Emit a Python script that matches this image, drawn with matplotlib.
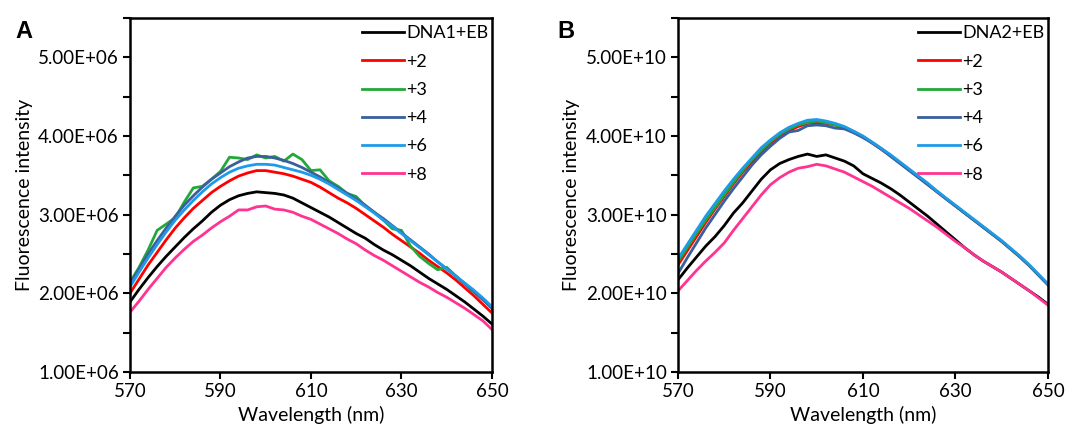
import numpy as np
import matplotlib
matplotlib.use("Agg")
import matplotlib.pyplot as plt
from matplotlib.ticker import FuncFormatter, MultipleLocator

plt.rcParams["font.family"] = ["Lato", "DejaVu Sans"]

# wavelength grid (nm), every 2 nm
wavelength = list(range(570, 651, 2))

# Panel A values, units of 1e6
a_dna1 = [1.89, 2.05, 2.20, 2.34, 2.47, 2.59, 2.71, 2.82, 2.92, 3.03, 3.12, 3.19, 3.24, 3.27, 3.29,
          3.28, 3.27, 3.25, 3.21, 3.15, 3.09, 3.03, 2.97, 2.90, 2.83, 2.76, 2.70, 2.62, 2.55, 2.49,
          2.42, 2.35, 2.27, 2.19, 2.12, 2.05, 1.97, 1.89, 1.80, 1.71, 1.61]
a_p2 = [2.00, 2.18, 2.36, 2.52, 2.68, 2.83, 2.96, 3.08, 3.18, 3.28, 3.36, 3.43, 3.49, 3.53, 3.56,
        3.56, 3.54, 3.52, 3.49, 3.45, 3.41, 3.35, 3.28, 3.21, 3.15, 3.08, 3.00, 2.92, 2.84, 2.75,
        2.67, 2.59, 2.51, 2.42, 2.34, 2.26, 2.17, 2.07, 1.97, 1.86, 1.75]
a_p3 = [2.14, 2.33, 2.55, 2.80, 2.88, 2.96, 3.16, 3.34, 3.36, 3.45, 3.55, 3.73, 3.72, 3.70, 3.76,
        3.72, 3.74, 3.68, 3.77, 3.70, 3.56, 3.57, 3.43, 3.36, 3.27, 3.23, 3.11, 3.03, 2.93, 2.82,
        2.80, 2.60, 2.47, 2.38, 2.30, 2.33, 2.22, 2.12, 2.02, 1.92, 1.81]
a_p4 = [2.12, 2.31, 2.50, 2.67, 2.83, 2.98, 3.12, 3.24, 3.35, 3.45, 3.53, 3.61, 3.67, 3.72, 3.74,
        3.74, 3.72, 3.69, 3.65, 3.60, 3.54, 3.48, 3.41, 3.34, 3.27, 3.20, 3.12, 3.03, 2.95, 2.86,
        2.77, 2.68, 2.59, 2.50, 2.40, 2.31, 2.22, 2.12, 2.02, 1.92, 1.81]
a_p6 = [2.08, 2.27, 2.45, 2.62, 2.78, 2.93, 3.06, 3.18, 3.29, 3.39, 3.47, 3.54, 3.59, 3.62, 3.64,
        3.64, 3.63, 3.60, 3.57, 3.54, 3.50, 3.45, 3.39, 3.32, 3.25, 3.18, 3.10, 3.02, 2.93, 2.85,
        2.76, 2.67, 2.58, 2.49, 2.40, 2.31, 2.22, 2.13, 2.04, 1.94, 1.83]
a_p8 = [1.76, 1.90, 2.05, 2.19, 2.33, 2.45, 2.56, 2.66, 2.74, 2.83, 2.91, 2.98, 3.06, 3.06, 3.10,
        3.11, 3.07, 3.06, 3.03, 2.98, 2.94, 2.88, 2.82, 2.76, 2.69, 2.63, 2.55, 2.48, 2.42, 2.35,
        2.28, 2.21, 2.14, 2.08, 2.01, 1.95, 1.88, 1.81, 1.73, 1.65, 1.54]

# Panel B values, units of 1e10
b_dna2 = [2.17, 2.32, 2.46, 2.60, 2.72, 2.86, 3.02, 3.15, 3.30, 3.45, 3.57, 3.65, 3.70, 3.74, 3.77,
          3.74, 3.76, 3.72, 3.68, 3.62, 3.52, 3.46, 3.40, 3.33, 3.25, 3.16, 3.07, 2.98, 2.88, 2.78,
          2.68, 2.58, 2.49, 2.41, 2.34, 2.27, 2.19, 2.11, 2.03, 1.95, 1.86]
b_p2 = [2.36, 2.54, 2.72, 2.90, 3.07, 3.23, 3.39, 3.54, 3.67, 3.80, 3.91, 4.00, 4.07, 4.12, 4.16,
        4.17, 4.16, 4.14, 4.10, 4.05, 3.99, 3.91, 3.83, 3.75, 3.66, 3.57, 3.48, 3.39, 3.29, 3.20,
        3.11, 3.02, 2.93, 2.84, 2.75, 2.66, 2.56, 2.46, 2.35, 2.23, 2.11]
b_p3 = [2.40, 2.58, 2.76, 2.93, 3.09, 3.25, 3.41, 3.56, 3.70, 3.82, 3.93, 4.02, 4.09, 4.14, 4.17,
        4.19, 4.17, 4.14, 4.11, 4.06, 3.99, 3.92, 3.84, 3.75, 3.66, 3.57, 3.48, 3.39, 3.30, 3.20,
        3.11, 3.02, 2.93, 2.84, 2.75, 2.66, 2.56, 2.46, 2.35, 2.23, 2.11]
b_p4 = [2.25, 2.45, 2.64, 2.83, 3.00, 3.17, 3.33, 3.48, 3.63, 3.76, 3.87, 3.97, 4.05, 4.07, 4.13,
        4.14, 4.13, 4.10, 4.09, 4.04, 3.98, 3.91, 3.83, 3.74, 3.65, 3.56, 3.47, 3.38, 3.29, 3.20,
        3.11, 3.02, 2.93, 2.84, 2.75, 2.66, 2.56, 2.46, 2.35, 2.23, 2.11]
b_p6 = [2.44, 2.62, 2.80, 2.98, 3.14, 3.30, 3.45, 3.59, 3.72, 3.85, 3.95, 4.04, 4.11, 4.16, 4.20,
        4.21, 4.19, 4.16, 4.12, 4.06, 4.00, 3.92, 3.84, 3.76, 3.67, 3.58, 3.49, 3.40, 3.30, 3.21,
        3.12, 3.03, 2.94, 2.85, 2.76, 2.67, 2.57, 2.47, 2.36, 2.24, 2.12]
b_p8 = [2.03, 2.16, 2.29, 2.41, 2.52, 2.64, 2.80, 2.95, 3.10, 3.25, 3.38, 3.47, 3.54, 3.59, 3.61,
        3.64, 3.62, 3.58, 3.54, 3.48, 3.42, 3.36, 3.29, 3.22, 3.15, 3.08, 3.00, 2.92, 2.84, 2.75,
        2.66, 2.58, 2.49, 2.41, 2.34, 2.27, 2.19, 2.11, 2.03, 1.94, 1.85]

labels_a = ["DNA1+EB", "+2", "+3", "+4", "+6", "+8"]
labels_b = ["DNA2+EB", "+2", "+3", "+4", "+6", "+8"]
colors = ["#000000", "#FF0000", "#22A838", "#3A5F9C", "#1E9BE8", "#FF3392"]
x_ticks = [570, 590, 610, 630, 650]

fig = plt.figure(figsize=(10.69, 4.44), dpi=100)
ax_a = fig.add_axes([0.1216, 0.1622, 0.3386, 0.7973])
ax_b = fig.add_axes([0.6342, 0.1622, 0.3461, 0.7973])

panels = [
    (ax_a, [a_dna1, a_p2, a_p3, a_p4, a_p6, a_p8], labels_a, 1e6),
    (ax_b, [b_dna2, b_p2, b_p3, b_p4, b_p6, b_p8], labels_b, 1e10),
]

for ax, series, labels, scale in panels:
    for vals, lab, col in zip(series, labels, colors):
        ax.plot(wavelength, np.array(vals) * scale, color=col, lw=2.0, label=lab)

    ax.set_xlim(570, 650)
    ax.set_ylim(1.0 * scale, 5.5 * scale)
    ax.set_xticks(x_ticks)
    ax.yaxis.set_major_locator(MultipleLocator(1.0 * scale))
    ax.yaxis.set_minor_locator(MultipleLocator(0.5 * scale))
    ax.yaxis.set_major_formatter(FuncFormatter(lambda v, p: f"{v:.2E}"))
    ax.tick_params(axis="both", direction="out", labelsize=13.5, width=1.5, length=5, pad=3)
    ax.tick_params(axis="y", which="minor", direction="out", width=1.5, length=5)
    for sp in ax.spines.values():
        sp.set_linewidth(1.8)
    ax.set_xlabel("Wavelength (nm)", fontsize=14, labelpad=4)
    ax.set_ylabel("Fluorescence intensity", fontsize=14, labelpad=4)

    ax.legend(loc="upper right", bbox_to_anchor=(1.02, 1.01), frameon=False, fontsize=13,
              handlelength=2.3, handletextpad=0.15, labelspacing=0.68, borderaxespad=0.2)

fig.text(0.014, 0.955, "A", fontsize=17, fontweight="bold", family="Liberation Sans", va="top")
fig.text(0.521, 0.955, "B", fontsize=17, fontweight="bold", family="Liberation Sans", va="top")

fig.savefig("out.png", dpi=100)
